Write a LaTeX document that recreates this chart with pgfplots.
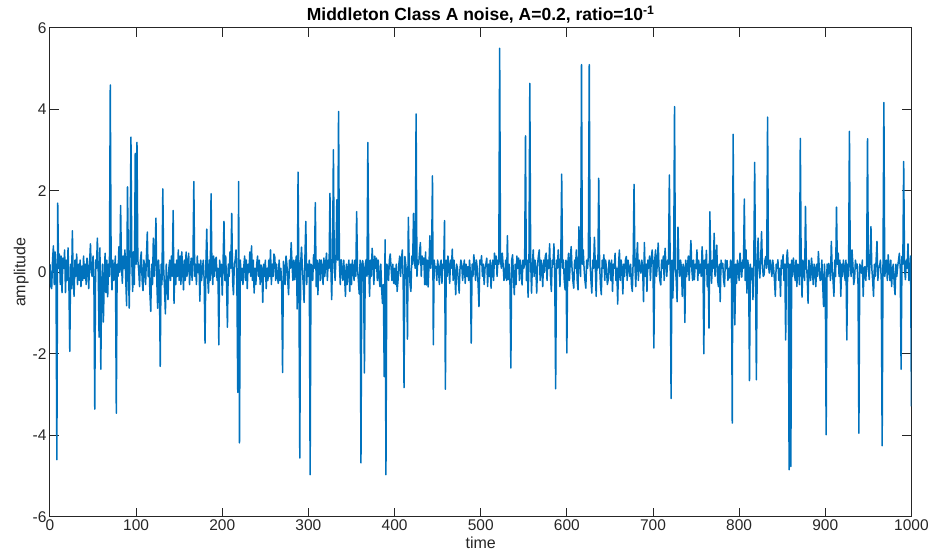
\documentclass[border=0pt]{standalone}
\usepackage{fontspec}
\setmainfont{Liberation Sans}
\usepackage{pgfplots}
\pgfplotsset{compat=1.18}
\definecolor{MatBlue}{RGB}{0,114,189}
\definecolor{AxGray}{RGB}{38,38,38}

\begin{document}
\begin{tikzpicture}
\begin{axis}[
  name=ax,
  width=862pt,height=489pt,scale only axis,
  xmin=0,xmax=1000,ymin=-6,ymax=6,
  xtick={0,100,...,1000},ytick={-6,-4,...,6},
  tick align=inside,major tick length=9pt,
  axis line style={draw=AxGray,line width=1pt},
  every tick/.style={AxGray,line width=1pt},
  tick label style={font=\fontsize{15.5}{17}\selectfont,text=AxGray},
  xticklabel style={yshift=1pt},
  /pgf/number format/assume math mode=true,
  /pgf/number format/1000 sep={},
  scaled ticks=false,
  title={Middleton Class A noise, A=0.2, ratio=10\textsuperscript{-1}},
  title style={font=\bfseries\fontsize{17.5}{19}\selectfont,yshift=-5pt},
  xlabel={time},ylabel={amplitude},
  label style={font=\fontsize{16}{18}\selectfont,text=AxGray},
  xlabel style={yshift=0pt},
  ylabel style={yshift=-3pt},
]
\addplot[MatBlue,line width=1.5pt,line join=round] coordinates {
(0,0.2)(1,-0.35)(2,-0.4)(3,0.3)(4,0.65)(5,-0.3)(6,0.5)(7,0.1)(8,-4.6)(9,1.7)
(10,0.1)(11,0.45)(12,-0.3)(13,0.4)(14,-0.5)(15,0.35)(16,0.1)(17,0.55)(18,-0.5)(19,0.3)
(20,-0.2)(21,0.6)(22,-0.3)(23,-1.94)(24,0.2)(25,-0.4)(26,1.02)(27,-0.2)(28,-0.59)(29,0.3)
(30,-0.1)(31,0.45)(32,-0.3)(33,0.2)(34,-0.2)(35,0.3)(36,-0.35)(37,0.15)(38,-0.2)(39,0.4)
(40,-0.15)(41,0.2)(42,-0.3)(43,0.35)(44,0.1)(45,-0.4)(46,0.25)(47,0.7)(48,0.0)(49,-0.1)
(50,0.4)(51,-0.2)(52,-3.36)(53,0.3)(54,0.1)(55,0.84)(56,0.1)(57,-1.59)(58,0.6)(59,-2.38)
(60,-0.3)(61,0.2)(62,-1.22)(63,-0.2)(64,0.47)(65,-0.5)(66,0.3)(67,-0.6)(68,0.2)(69,-0.1)
(70,4.6)(71,0.2)(72,-0.43)(73,0.3)(74,-0.2)(75,0.1)(76,0.4)(77,-3.46)(78,0.2)(79,-0.1)
(80,0.63)(81,0.0)(82,1.64)(83,0.2)(84,-0.27)(85,0.4)(86,0.1)(87,0.55)(88,-0.2)(89,-0.82)
(90,2.1)(91,0.3)(92,-0.88)(93,0.5)(94,3.32)(95,0.3)(96,-0.47)(97,0.5)(98,-0.3)(99,2.92)
(100,0.2)(101,3.19)(102,0.3)(103,0.06)(104,-0.35)(105,0.3)(106,0.5)(107,-0.2)(108,-0.45)(109,0.3)
(110,0.1)(111,-0.3)(112,0.4)(113,0.99)(114,-0.1)(115,0.3)(116,-0.5)(117,-0.96)(118,0.2)(119,-0.3)
(120,0.84)(121,-0.1)(122,0.3)(123,1.33)(124,-0.2)(125,-0.88)(126,0.3)(127,-0.1)(128,-2.31)(129,0.2)
(130,-0.3)(131,2.05)(132,0.1)(133,-0.4)(134,-1.02)(135,0.2)(136,-0.3)(137,-0.67)(138,0.1)(139,0.3)
(140,-0.2)(141,0.4)(142,-0.1)(143,1.52)(144,-0.76)(145,0.2)(146,-0.3)(147,0.3)(148,-0.1)(149,0.55)
(150,-0.2)(151,0.4)(152,-0.3)(153,0.5)(154,0.1)(155,-0.43)(156,0.3)(157,-0.2)(158,0.5)(159,-0.1)
(160,0.2)(161,0.47)(162,-0.3)(163,0.1)(164,0.35)(165,-0.2)(166,0.3)(167,2.23)(168,-0.1)(169,0.2)
(170,-0.3)(171,0.4)(172,0.0)(173,0.2)(174,-0.71)(175,0.3)(176,-0.2)(177,0.1)(178,0.3)(179,-0.2)
(180,-1.74)(181,0.2)(182,1.06)(183,-0.1)(184,-0.51)(185,0.3)(186,-0.2)(187,1.93)(188,0.1)(189,-0.3)
(190,0.4)(191,-0.1)(192,0.3)(193,0.37)(194,-0.2)(195,0.1)(196,-1.78)(197,0.3)(198,-0.1)(199,0.2)
(200,-0.56)(201,0.3)(202,1.25)(203,-0.2)(204,0.4)(205,-0.3)(206,-1.35)(207,0.2)(208,-0.1)(209,0.5)
(210,0.1)(211,1.45)(212,-0.2)(213,-0.55)(214,0.2)(215,0.3)(216,0.55)(217,-0.3)(218,-2.95)(219,2.23)
(220,-4.19)(221,0.3)(222,-0.2)(223,0.1)(224,-0.3)(225,0.14)(226,0.4)(227,-0.2)(228,0.3)(229,-0.4)
(230,0.2)(231,0.0)(232,0.5)(233,-0.1)(234,0.65)(235,-0.2)(236,0.3)(237,-0.51)(238,0.1)(239,-0.3)
(240,0.2)(241,0.4)(242,-0.1)(243,0.3)(244,-0.3)(245,0.18)(246,0.1)(247,-0.74)(248,0.2)(249,-0.1)
(250,0.3)(251,-0.4)(252,0.1)(253,-0.2)(254,0.3)(255,-0.1)(256,0.55)(257,-0.3)(258,0.2)(259,-0.1)
(260,0.45)(261,0.37)(262,-0.2)(263,0.2)(264,-0.1)(265,-0.27)(266,0.3)(267,-0.2)(268,0.1)(269,-0.3)
(270,-2.46)(271,0.27)(272,0.1)(273,-0.3)(274,0.4)(275,0.2)(276,-0.2)(277,-0.55)(278,0.3)(279,0.1)
(280,0.73)(281,0.2)(282,-0.2)(283,0.3)(284,-0.18)(285,0.2)(286,0.4)(287,-0.9)(288,2.46)(289,-0.3)
(290,-4.56)(291,0.2)(292,0.62)(293,0.1)(294,-0.3)(295,-0.74)(296,0.4)(297,1.25)(298,-0.3)(299,0.2)
(300,-0.1)(301,0.3)(302,-4.97)(303,0.2)(304,0.14)(305,-0.2)(306,0.43)(307,0.1)(308,1.71)(309,-0.35)
(310,0.3)(311,-0.55)(312,0.2)(313,0.31)(314,-0.2)(315,0.3)(316,0.1)(317,-0.3)(318,0.35)(319,-0.1)
(320,0.2)(321,0.47)(322,-0.2)(323,0.3)(324,0.1)(325,1.94)(326,0.2)(327,-0.67)(328,0.3)(329,3.01)
(330,0.2)(331,-0.2)(332,0.4)(333,1.78)(334,0.3)(335,3.95)(336,0.2)(337,-0.3)(338,0.31)(339,0.1)
(340,-0.2)(341,0.3)(342,-0.1)(343,-0.59)(344,0.2)(345,-0.3)(346,0.1)(347,0.3)(348,-0.47)(349,0.2)
(350,-0.3)(351,0.3)(352,0.1)(353,-0.2)(354,0.3)(355,-0.1)(356,1.49)(357,0.1)(358,-0.2)(359,-0.53)
(360,0.3)(361,-4.68)(362,0.2)(363,0.29)(364,0.1)(365,-2.47)(366,0.2)(367,0.31)(368,-0.1)(369,3.19)
(370,0.2)(371,-0.59)(372,0.3)(373,-0.1)(374,0.59)(375,0.2)(376,-0.3)(377,0.4)(378,0.1)(379,0.35)
(380,-0.2)(381,0.3)(382,-0.1)(383,-0.35)(384,0.2)(385,-0.4)(386,-0.76)(387,-0.3)(388,-2.56)(389,0.8)
(390,-4.97)(391,0.2)(392,0.13)(393,-0.2)(394,0.3)(395,0.45)(396,0.1)(397,-0.2)(398,0.2)(399,-0.27)
(400,0.1)(401,-0.3)(402,0.2)(403,-0.47)(404,-0.2)(405,0.2)(406,0.4)(407,-0.1)(408,0.3)(409,0.55)
(410,-0.2)(411,-2.83)(412,0.39)(413,0.2)(414,-0.1)(415,-1.64)(416,1.35)(417,0.2)(418,-0.3)(419,-0.47)
(420,0.4)(421,0.2)(422,1.45)(423,0.3)(424,0.1)(425,3.89)(426,-0.1)(427,0.3)(428,0.2)(429,0.5)
(430,0.73)(431,-0.1)(432,0.4)(433,0.2)(434,0.35)(435,-0.3)(436,0.5)(437,-0.31)(438,0.3)(439,-0.36)
(440,0.2)(441,0.9)(442,0.1)(443,0.4)(444,2.37)(445,-1.78)(446,0.3)(447,0.1)(448,0.14)(449,-0.2)
(450,0.3)(451,0.1)(452,-0.3)(453,0.18)(454,0.3)(455,-0.27)(456,0.2)(457,0.1)(458,1.27)(459,-2.87)
(460,0.3)(461,-0.1)(462,0.4)(463,0.1)(464,-0.27)(465,0.3)(466,0.1)(467,0.57)(468,-0.2)(469,0.3)
(470,-0.1)(471,-0.55)(472,0.2)(473,0.1)(474,-0.2)(475,-0.51)(476,0.1)(477,0.3)(478,0.18)(479,-0.2)
(480,0.1)(481,0.3)(482,-0.27)(483,0.2)(484,-0.1)(485,0.14)(486,-0.2)(487,0.3)(488,0.0)(489,-1.74)
(490,0.2)(491,-0.1)(492,0.43)(493,0.2)(494,-0.2)(495,0.3)(496,0.1)(497,-0.3)(498,-0.84)(499,0.3)
(500,0.2)(501,0.41)(502,-0.1)(503,0.2)(504,-0.3)(505,0.1)(506,0.2)(507,0.35)(508,-0.35)(509,0.2)
(510,-0.1)(511,0.3)(512,-0.39)(513,0.1)(514,0.3)(515,-0.2)(516,0.47)(517,0.2)(518,0.4)(519,-0.1)
(520,0.3)(521,0.2)(522,5.5)(523,0.3)(524,0.1)(525,0.47)(526,0.2)(527,-0.2)(528,-0.1)(529,0.3)
(530,-0.2)(531,0.9)(532,-0.18)(533,0.2)(534,-0.3)(535,-2.35)(536,0.3)(537,0.43)(538,-0.1)(539,-0.55)
(540,0.2)(541,-0.3)(542,0.4)(543,0.1)(544,0.35)(545,-0.2)(546,0.3)(547,0.1)(548,-0.31)(549,0.3)
(550,0.1)(551,0.2)(552,3.35)(553,-0.2)(554,0.3)(555,-0.61)(556,0.2)(557,4.64)(558,0.3)(559,-0.51)
(560,0.2)(561,0.55)(562,-0.1)(563,0.3)(564,0.1)(565,-0.51)(566,0.2)(567,0.4)(568,0.55)(569,-0.2)
(570,0.3)(571,0.1)(572,-0.35)(573,0.3)(574,0.0)(575,0.4)(576,0.47)(577,-0.2)(578,0.3)(579,0.1)
(580,0.7)(581,-0.1)(582,-0.47)(583,0.3)(584,0.2)(585,0.7)(586,-0.2)(587,-2.86)(588,0.3)(589,0.1)
(590,0.55)(591,0.2)(592,-0.35)(593,0.4)(594,2.41)(595,0.1)(596,0.3)(597,-0.2)(598,-0.43)(599,0.3)
(600,-1.98)(601,0.2)(602,0.47)(603,-0.2)(604,0.3)(605,0.63)(606,0.1)(607,-0.2)(608,-0.39)(609,0.3)
(610,0.1)(611,0.55)(612,-0.2)(613,-0.43)(614,1.12)(615,0.3)(616,-0.1)(617,5.1)(618,0.2)(619,0.55)
(620,0.1)(621,-0.2)(622,-0.39)(623,0.3)(624,0.1)(625,0.4)(626,5.1)(627,0.2)(628,-0.2)(629,-0.51)
(630,0.3)(631,0.1)(632,0.86)(633,0.2)(634,-0.59)(635,0.3)(636,0.1)(637,2.31)(638,0.2)(639,-0.3)
(640,-0.55)(641,0.3)(642,0.1)(643,0.43)(644,-0.2)(645,0.3)(646,0.1)(647,-0.3)(648,-0.18)(649,0.3)
(650,0.2)(651,-0.2)(652,0.3)(653,-0.47)(654,0.2)(655,0.1)(656,0.47)(657,-0.2)(658,0.1)(659,-0.78)
(660,0.2)(661,0.55)(662,-0.2)(663,0.3)(664,0.1)(665,-0.53)(666,0.2)(667,-0.1)(668,0.3)(669,0.39)
(670,-0.2)(671,0.3)(672,0.1)(673,-0.1)(674,0.2)(675,-0.3)(676,-0.47)(677,0.3)(678,2.16)(679,0.2)
(680,-0.35)(681,0.3)(682,0.73)(683,-0.2)(684,0.3)(685,0.1)(686,-0.02)(687,0.3)(688,0.1)(689,-0.72)
(690,0.73)(691,-0.1)(692,0.2)(693,-0.47)(694,0.3)(695,0.1)(696,0.4)(697,-0.2)(698,0.3)(699,0.55)
(700,0.2)(701,-1.86)(702,0.3)(703,0.55)(704,-0.1)(705,0.2)(706,0.72)(707,0.1)(708,-0.2)(709,-0.31)
(710,0.3)(711,0.1)(712,0.4)(713,-0.2)(714,0.59)(715,0.2)(716,-0.1)(717,0.3)(718,0.2)(719,2.39)
(720,0.1)(721,-3.1)(722,0.3)(723,-0.63)(724,0.2)(725,4.07)(726,0.1)(727,-0.2)(728,-0.72)(729,1.11)
(730,0.2)(731,-0.1)(732,0.3)(733,0.1)(734,-0.59)(735,0.2)(736,0.1)(737,-1.23)(738,0.3)(739,-0.1)
(740,0.14)(741,0.4)(742,-0.2)(743,0.3)(744,0.78)(745,0.1)(746,-0.2)(747,0.3)(748,-0.18)(749,0.2)
(750,0.1)(751,0.55)(752,-0.2)(753,0.3)(754,-0.02)(755,0.2)(756,-0.1)(757,0.63)(758,0.2)(759,-2.0)
(760,0.3)(761,0.1)(762,0.54)(763,-0.35)(764,0.2)(765,-1.37)(766,1.49)(767,0.2)(768,-0.27)(769,0.3)
(770,0.1)(771,0.96)(772,-0.1)(773,0.3)(774,0.67)(775,-0.2)(776,-0.35)(777,0.2)(778,-0.72)(779,0.3)
(780,0.1)(781,0.22)(782,-0.2)(783,-0.35)(784,0.3)(785,0.1)(786,0.29)(787,-0.2)(788,0.1)(789,-0.14)
(790,0.3)(791,0.2)(792,-3.7)(793,3.39)(794,0.1)(795,-1.29)(796,0.2)(797,-0.27)(798,0.3)(799,0.1)
(800,-0.2)(801,0.47)(802,0.1)(803,-0.12)(804,0.3)(805,0.1)(806,1.8)(807,-0.2)(808,0.55)(809,-0.51)
(810,0.3)(811,0.1)(812,-2.66)(813,0.2)(814,-0.18)(815,0.1)(816,-0.67)(817,0.2)(818,2.7)(819,0.1)
(820,-2.64)(821,0.3)(822,0.84)(823,0.1)(824,-0.14)(825,0.3)(826,1.0)(827,0.2)(828,-0.1)(829,-0.06)
(830,0.3)(831,0.39)(832,0.1)(833,3.81)(834,0.2)(835,-0.02)(836,0.3)(837,0.14)(838,-0.1)(839,0.3)
(840,0.1)(841,-0.2)(842,-0.59)(843,0.2)(844,0.1)(845,0.31)(846,-0.2)(847,0.1)(848,-0.59)(849,0.3)
(850,0.1)(851,0.43)(852,-0.2)(853,0.2)(854,-1.66)(855,0.3)(856,0.55)(857,0.1)(858,-4.85)(859,0.2)
(860,-4.77)(861,0.3)(862,-0.1)(863,0.35)(864,0.1)(865,-0.2)(866,0.3)(867,-0.35)(868,0.2)(869,0.1)
(870,-0.3)(871,3.29)(872,0.2)(873,-0.61)(874,0.3)(875,0.1)(876,-0.2)(877,1.62)(878,0.2)(879,-0.1)
(880,-0.76)(881,0.3)(882,0.1)(883,-0.2)(884,0.35)(885,0.1)(886,-0.3)(887,0.2)(888,0.1)(889,-0.35)
(890,0.2)(891,-0.1)(892,0.51)(893,0.1)(894,-0.2)(895,-0.18)(896,0.3)(897,-0.3)(898,-0.84)(899,0.2)
(900,-0.3)(901,-3.99)(902,0.2)(903,-0.1)(904,0.22)(905,0.1)(906,-0.2)(907,0.76)(908,0.1)(909,-0.2)
(910,-0.59)(911,0.3)(912,-0.1)(913,1.6)(914,0.2)(915,0.47)(916,-0.1)(917,0.3)(918,-0.59)(919,0.2)
(920,-0.1)(921,0.3)(922,0.14)(923,-0.2)(924,0.3)(925,-1.66)(926,0.2)(927,-0.1)(928,3.46)(929,0.2)
(930,-0.1)(931,0.55)(932,0.2)(933,-0.3)(934,-0.14)(935,0.3)(936,0.1)(937,0.2)(938,-0.3)(939,-3.95)
(940,0.2)(941,0.1)(942,-0.02)(943,0.3)(944,-0.59)(945,0.1)(946,0.14)(947,-0.2)(948,0.2)(949,3.28)
(950,0.1)(951,-0.18)(952,0.3)(953,1.12)(954,0.1)(955,-0.2)(956,-0.59)(957,0.2)(958,-0.1)(959,0.3)
(960,0.76)(961,-0.2)(962,0.1)(963,0.14)(964,0.3)(965,-0.2)(966,-4.26)(967,0.3)(968,4.17)(969,-0.1)
(970,0.1)(971,0.3)(972,-0.2)(973,0.43)(974,0.1)(975,-0.2)(976,0.3)(977,-0.35)(978,0.1)(979,0.2)
(980,-0.3)(981,-0.55)(982,0.2)(983,-0.1)(984,0.14)(985,0.3)(986,0.47)(987,0.1)(988,-2.38)(989,0.39)
(990,0.2)(991,2.72)(992,0.1)(993,-0.18)(994,0.3)(995,0.1)(996,0.7)(997,-0.2)(998,-0.02)(999,0.4)
(1000,-3.29)
};
\end{axis}
\path[use as bounding box] ([xshift=-50pt,yshift=-42pt]ax.south west) rectangle ([xshift=20pt,yshift=28pt]ax.north east);
\end{tikzpicture}
\end{document}
